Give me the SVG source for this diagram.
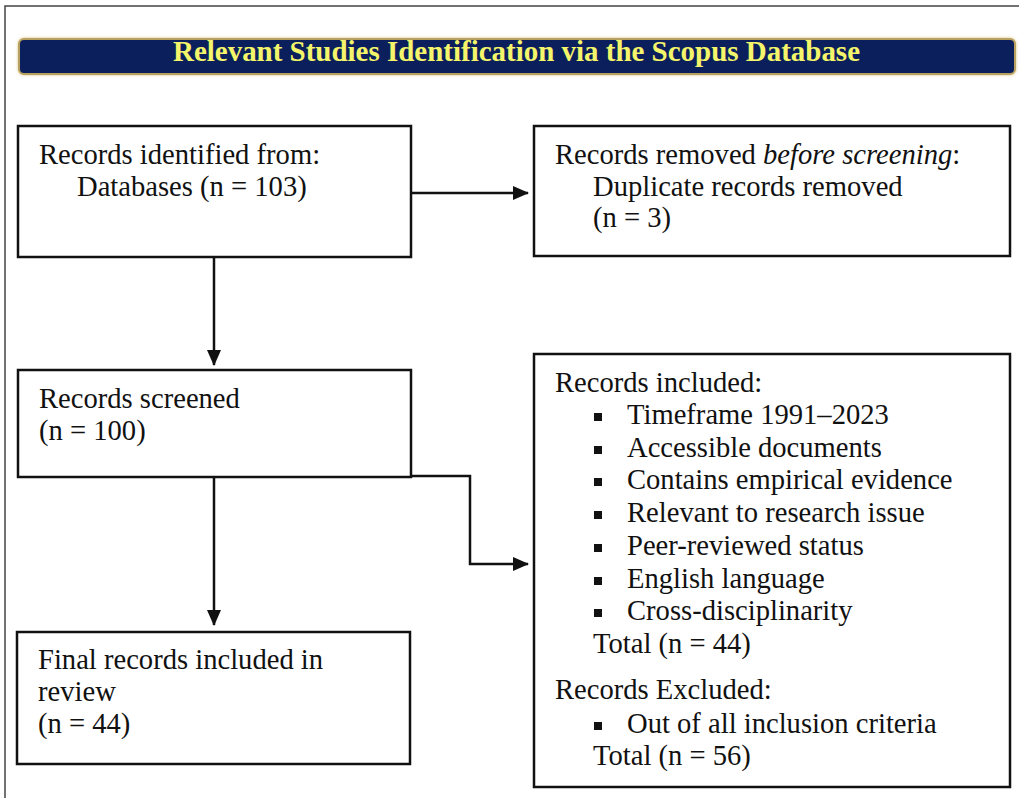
<svg xmlns="http://www.w3.org/2000/svg" width="1019" height="798" viewBox="0 0 1019 798">
<defs>
<style>
.box{fill:#ffffff;stroke:#111111;stroke-width:2.5}
.t{font-family:"Liberation Serif","Times New Roman",serif;font-size:28.6px;fill:#111111}
.conn{fill:none;stroke:#111111;stroke-width:2.5}
.bul{fill:#111111}
.title{font-family:"Liberation Serif","Times New Roman",serif;font-size:29px;font-weight:bold;fill:#f4f56a}
</style>
<marker id="ah" markerWidth="16" markerHeight="14" refX="15" refY="7" orient="auto" markerUnits="userSpaceOnUse">
<path d="M0,0 L16,7 L0,14 Z" fill="#111111"/>
</marker>
<filter id="glow" x="-5%" y="-40%" width="110%" height="180%">
<feGaussianBlur stdDeviation="1.5"/>
</filter>
</defs>
<rect x="0" y="0" width="1019" height="798" fill="#ffffff"/>
<path d="M5,798 L5,6 L1019,6" fill="none" stroke="#444444" stroke-width="1.5"/>
<g id="banner">
<rect x="18" y="38" width="998" height="37" rx="6" fill="#d8c47a" filter="url(#glow)"/>
<rect x="19" y="39" width="996" height="35" rx="5" fill="#0b1f5c" stroke="#b8a060" stroke-width="2"/>
<text class="title" x="173" y="61" textLength="687" lengthAdjust="spacingAndGlyphs">Relevant Studies Identification via the Scopus Database</text>
</g>
<g id="connectors">
<line class="conn" x1="411" y1="193" x2="528" y2="193" marker-end="url(#ah)"/>
<line class="conn" x1="214" y1="257" x2="214" y2="365" marker-end="url(#ah)"/>
<polyline class="conn" points="411,476 470,476 470,564 528,564" marker-end="url(#ah)"/>
<line class="conn" x1="214" y1="477" x2="214" y2="625" marker-end="url(#ah)"/>
</g>
<g id="identified">
<rect class="box" x="18" y="126" width="393" height="131"/>
<text class="t" x="39" y="164">Records identified from:</text>
<text class="t" x="77" y="196">Databases (n = 103)</text>
</g>
<g id="removed">
<rect class="box" x="534" y="126" width="476" height="130"/>
<text class="t" x="555" y="164">Records removed <tspan font-style="italic">before screening</tspan>:</text>
<text class="t" x="593" y="196">Duplicate records removed</text>
<text class="t" x="593" y="227">(n = 3)</text>
</g>
<g id="screened">
<rect class="box" x="18" y="370" width="393" height="107"/>
<text class="t" x="39" y="408">Records screened</text>
<text class="t" x="39" y="440">(n = 100)</text>
</g>
<g id="final">
<rect class="box" x="17" y="632" width="393" height="132"/>
<text class="t" x="38" y="669">Final records included in</text>
<text class="t" x="38" y="701">review</text>
<text class="t" x="38" y="733">(n = 44)</text>
</g>
<g id="criteria">
<rect class="box" x="534" y="354" width="476" height="433"/>
<text class="t" x="555" y="392">Records included:</text>
<rect class="bul" x="594" y="413" width="8" height="8"/>
<text class="t" x="627" y="424">Timeframe 1991–2023</text>
<rect class="bul" x="594" y="446" width="8" height="8"/>
<text class="t" x="627" y="457">Accessible documents</text>
<rect class="bul" x="594" y="478" width="8" height="8"/>
<text class="t" x="627" y="489">Contains empirical evidence</text>
<rect class="bul" x="594" y="511" width="8" height="8"/>
<text class="t" x="627" y="522">Relevant to research issue</text>
<rect class="bul" x="594" y="544" width="8" height="8"/>
<text class="t" x="627" y="555">Peer-reviewed status</text>
<rect class="bul" x="594" y="577" width="8" height="8"/>
<text class="t" x="627" y="588">English language</text>
<rect class="bul" x="594" y="609" width="8" height="8"/>
<text class="t" x="627" y="620">Cross-disciplinarity</text>
<text class="t" x="593" y="653">Total (n = 44)</text>
<text class="t" x="555" y="699">Records Excluded:</text>
<rect class="bul" x="594" y="722" width="8" height="8"/>
<text class="t" x="627" y="733">Out of all inclusion criteria</text>
<text class="t" x="593" y="765">Total (n = 56)</text>
</g>
</svg>
